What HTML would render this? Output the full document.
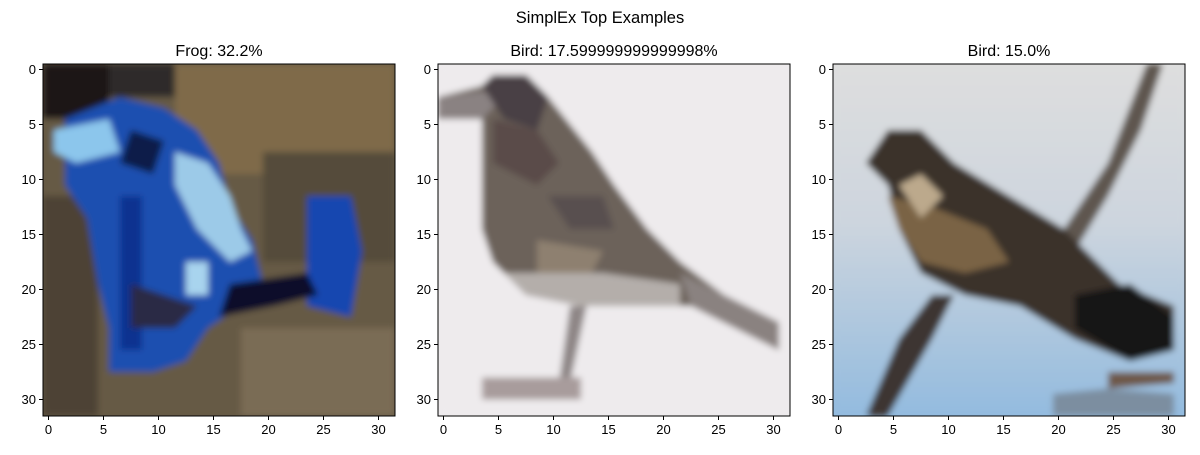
<!DOCTYPE html>
<html><head><meta charset="utf-8"><style>
body{margin:0;background:#fff;width:1200px;height:450px;overflow:hidden;font-family:"Liberation Sans","DejaVu Sans",sans-serif}
</style></head><body>
<svg id="fig" width="1200" height="450" viewBox="0 0 1200 450">
<defs><filter id="bl" x="-5%" y="-5%" width="110%" height="110%"><feGaussianBlur stdDeviation="0.3"/></filter>
<linearGradient id="sky" x1="0" y1="0" x2="0" y2="1"><stop offset="0" stop-color="#dedede"/><stop offset="0.45" stop-color="#cdd5de"/><stop offset="1" stop-color="#93bbdf"/></linearGradient>
<clipPath id="c1"><rect x="0" y="0" width="32" height="32"/></clipPath></defs>
<text x="600" y="23" text-anchor="middle" font-size="16.5">SimplEx Top Examples</text>
<g id="panels"></g>
</svg>
<script>
const titles=["Frog: 32.2%","Bird: 17.599999999999998%","Bird: 15.0%"];
const ticks=[0,5,10,15,20,25,30];
const lefts=[43,438,833];
const top0=64, size=352, n=32;
const NS="http://www.w3.org/2000/svg";
const bases=['<rect width="32" height="32" fill="#665a45"/>','<rect width="32" height="32" fill="#eeebed"/>','<rect width="32" height="32" fill="url(#sky)"/>'];
const images=[
`<rect width="32" height="32" fill="#665a45"/>
<rect x="0" y="0" width="6" height="5" fill="#1e1818"/>
<rect x="6" y="0" width="6" height="3" fill="#2f2a2c"/>
<rect x="12" y="0" width="20" height="10" fill="#7f6a4a"/>
<rect x="20" y="8" width="12" height="10" fill="#554c3a"/>
<rect x="0" y="12" width="5" height="20" fill="#4d4236"/>
<rect x="18" y="24" width="14" height="8" fill="#7a6c55"/>
<polygon points="2,5 7,3 11,4 14,6 16,9 17,13 19,16 20,20 18,22 15,24 13,27 10,28 6,28 6,24 5,20 4,14 2,11" fill="#1c4fb0"/>
<polygon points="1,6 6,5 7,8 3,9 1,8" fill="#8cc6ec"/>
<polygon points="12,8 15,9 17,12 18,15 19,17 17,18 14,15 12,11" fill="#9ccae8"/>
<polygon points="13,18 15,18 15,21 13,21" fill="#a8d4ee"/>
<polygon points="8,6 11,7 10,10 7,9" fill="#0d1a48"/>
<polygon points="7,12 9,12 9,26 7,26" fill="#0e3190"/>
<polygon points="24,12 28,12 29,17 28,23 24,22" fill="#1446b0"/>
<polygon points="17,20 24,19 25,21 21,22 16,23" fill="#0a0e2c"/>
<polygon points="8,20 14,22 12,24 8,24" fill="#2c2c44"/>`,
`<rect width="32" height="32" fill="#eeebed"/>
<polygon points="0,3 4,2 5,1 8,1 10,3 14,8 16,11 19,15 22,18 26,21 31,23.5 31,26 27,24 23,22 20,22 13,22 8,21 5,18 4,15 4,5 3,5 0,5" fill="#6c625a"/>
<polygon points="0,3 4,2.5 6,3 4,5 0,5" fill="#8a8282"/>
<polygon points="4,2 5,1 8,1 10,3 9,6 6,5" fill="#4a4044"/>
<polygon points="5,5 9,6 11,9 9,11 5,9" fill="#5a4c48"/>
<polygon points="10,12 15,12 16,15 12,15" fill="#585050"/>
<polygon points="9,16 15,17 14,19 9,19" fill="#8e8070"/>
<polygon points="6,19 15,19 22,20 22,22 13,22 8,21" fill="#b4aeaa"/>
<polygon points="22,19 26,21 31,23.5 31,26 27,24 23,22" fill="#8a8280"/>
<polygon points="12,22 13.5,22 12,29 11,29" fill="#8e8686"/>
<rect x="4" y="28.5" width="9" height="2" fill="#a89c9c"/>`,
`<rect width="32" height="32" fill="url(#sky)"/>
<polygon points="28.5,0 30,0 28,6 25,12 22,17 19,20 17,20 21,15 25,9" fill="#5e5650"/>
<polygon points="3,32 5,32 9,25 11,21 9,21 6,25" fill="#3e3430"/>
<polygon points="3,9 5,6 8,6 11,9 16,12 21,15 26,20 31,22 31,26 27,27 22,25 17,22 12,21 8,19 6,15 5,11" fill="#3a302a"/>
<polygon points="5,12 9,13 14,15 16,18 12,19 8,18 6,15" fill="#7a6444"/>
<polygon points="6,11 8,10 10,12 8,14" fill="#bca98c"/>
<polygon points="22,21 27,20 31,23 31,26 27,27 22,24" fill="#121212"/>
<polygon points="25,28 31,28 31,29 25,29.5" fill="#6e5848"/>
<polygon points="20,30 25,29.5 31,30 31,32 20,32" fill="#7c8ea0"/>`
];
const g=document.getElementById('panels');
for(let p=0;p<3;p++){
  const L=lefts[p];
  const pg=document.createElementNS(NS,'g');
  
  
  const im=document.createElementNS(NS,'svg');
  im.setAttribute('x',L);im.setAttribute('y',top0);im.setAttribute('width',size);im.setAttribute('height',size);
  im.setAttribute('viewBox','0 0 32 32');im.setAttribute('preserveAspectRatio','none');
  im.innerHTML=bases[p]+'<g clip-path="url(#c1)"><g filter="url(#bl)">'+images[p]+'</g></g>';
  
  
  pg.appendChild(im);
  const fr=document.createElementNS(NS,'rect');
  fr.setAttribute('x',L);fr.setAttribute('y',top0);fr.setAttribute('width',size);fr.setAttribute('height',size);
  fr.setAttribute('fill','none');fr.setAttribute('stroke','#000');fr.setAttribute('stroke-width','1');
  
  
  pg.appendChild(fr);
  const t=document.createElementNS(NS,'text');
  t.setAttribute('x',L+size/2);t.setAttribute('y',top0-8);t.setAttribute('text-anchor','middle');t.setAttribute('font-size','16');
  t.textContent=titles[p];
  
  
  pg.appendChild(t);
  const sx=v=>L+(v+0.5)*size/n, sy=v=>top0+(v+0.5)*size/n;
  ticks.forEach(v=>{
    const x=sx(v), y=sy(v);
    const tx=document.createElementNS(NS,'line');
    tx.setAttribute('x1',x);tx.setAttribute('x2',x);tx.setAttribute('y1',top0+size);tx.setAttribute('y2',top0+size+4);tx.setAttribute('stroke','#000');
    
    
    pg.appendChild(tx);
    const lx=document.createElementNS(NS,'text');
    lx.setAttribute('x',x);lx.setAttribute('y',top0+size+18);lx.setAttribute('text-anchor','middle');lx.setAttribute('font-size','13');
    lx.textContent=v;
    
    
    pg.appendChild(lx);
    const ty=document.createElementNS(NS,'line');
    ty.setAttribute('x1',L-4);ty.setAttribute('x2',L);ty.setAttribute('y1',y);ty.setAttribute('y2',y);ty.setAttribute('stroke','#000');
    
    
    pg.appendChild(ty);
    const ly=document.createElementNS(NS,'text');
    ly.setAttribute('x',L-7);ly.setAttribute('y',y+4.5);ly.setAttribute('text-anchor','end');ly.setAttribute('font-size','13');
    ly.textContent=v;
    
    
    pg.appendChild(ly);
  });
  g.appendChild(pg);
}
</script>
</body></html>
